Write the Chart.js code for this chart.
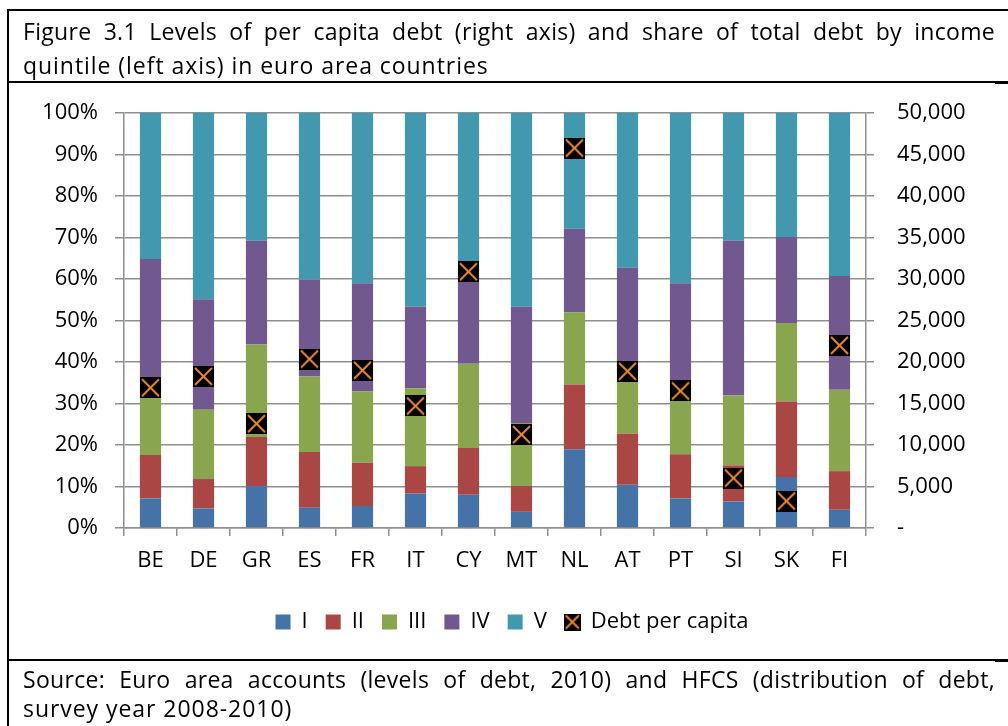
<!DOCTYPE html>
<html>
<head>
<meta charset="utf-8">
<script src="https://cdn.jsdelivr.net/npm/chart.js@4/dist/chart.umd.min.js"></script>
<style>
  html, body { margin: 0; padding: 0; background: #fff; }
  body { width: 1008px; height: 726px; position: relative; overflow: hidden;
         font-family: "Open Sans", "Noto Sans", sans-serif; color: #000; }
  #c { position: absolute; left: 0; top: 0; }
  .line { position: absolute; background: #000; }
  .txt { position: absolute; left: 23px; font-size: 23px; line-height: 34px; white-space: nowrap; letter-spacing: 0.95px; }
  .just { width: 972px; text-align: justify; text-align-last: justify; white-space: normal; letter-spacing: 0.3px; }
</style>
</head>
<body>
<canvas id="c" width="1008" height="726"></canvas>
<div class="line" style="left:7px;top:9px;width:1001px;height:2px;"></div>
<div class="line" style="left:7px;top:9px;width:2px;height:717px;"></div>
<div class="line" style="left:8px;top:81px;width:987px;height:2px;"></div>
<div class="line" style="left:995px;top:81px;width:13px;height:3px;"></div>
<div class="line" style="left:8px;top:659px;width:987px;height:2px;"></div>
<div class="line" style="left:995px;top:659px;width:13px;height:3px;"></div>
<div class="txt just" style="top:14px;">Figure 3.1 Levels of per capita debt (right axis) and share of total debt by income</div>
<div class="txt" style="top:48px;">quintile (left axis) in euro area countries</div>
<div class="txt just" style="top:662px;">Source: Euro area accounts (levels of debt, 2010) and HFCS (distribution of debt,</div>
<div class="txt" style="top:691px;">survey year 2008-2010)</div>
<script>
// ---- data ----
const countries = ["BE","DE","GR","ES","FR","IT","CY","MT","NL","AT","PT","SI","SK","FI"];
const quintileI   = [7.1, 4.7, 10.1, 4.9, 5.3, 8.3, 8.0, 3.9, 19.0, 10.4, 7.1, 6.4, 12.3, 4.4];
const quintileII  = [10.5, 7.1, 11.8, 13.4, 10.4, 6.6, 11.3, 6.2, 15.6, 12.3, 10.7, 8.7, 18.2, 9.3];
const quintileIII = [13.7, 16.7, 22.3, 18.2, 17.2, 18.8, 20.3, 15.2, 17.4, 12.5, 15.2, 16.9, 18.9, 19.6];
const quintileIV  = [33.5, 26.6, 25.0, 23.4, 26.1, 19.7, 22.4, 28.0, 20.1, 27.5, 26.0, 37.2, 20.7, 27.4];
const quintileV   = [35.2, 44.9, 30.8, 40.1, 41.0, 46.6, 38.0, 46.7, 27.9, 37.3, 41.0, 30.8, 29.9, 39.3];
const debtPerCapita = [16900, 18270, 12570, 20360, 19000, 14700, 30880, 11250, 45780, 18880, 16510, 6020, 3250, 22010];
const seriesNames = ["I","II","III","IV","V","Debt per capita"];
const leftTicks = [0,10,20,30,40,50,60,70,80,90,100];
const rightTicks = [0,5000,10000,15000,20000,25000,30000,35000,40000,45000,50000];

// ---- styles ----
const colors = ["#4572A7","#AA4643","#89A54E","#71588F","#4198AF"];
const gridColor = "#8f8f8f";
const orange = "#E8892F";

function makeMarker(size) {
  const cv = document.createElement('canvas');
  cv.width = size; cv.height = size;
  const g = cv.getContext('2d');
  g.fillStyle = '#000';
  g.fillRect(0, 0, size, size);
  g.strokeStyle = orange;
  g.lineWidth = 2;
  g.beginPath();
  g.moveTo(2, 2); g.lineTo(size - 2, size - 2);
  g.moveTo(size - 2, 2); g.lineTo(2, size - 2);
  g.stroke();
  return cv;
}
const chartMarker = makeMarker(21);
const legendMarker = makeMarker(17);

Chart.defaults.font.family = '"Open Sans", "Noto Sans", sans-serif';
Chart.defaults.color = '#000';

const quintiles = [quintileI, quintileII, quintileIII, quintileIV, quintileV];
const datasets = quintiles.map((d, i) => ({
  type: 'bar',
  label: seriesNames[i],
  data: d,
  backgroundColor: colors[i],
  borderWidth: 0,
  pointStyle: 'rect',
  yAxisID: 'y',
  order: 1,
  barPercentage: 0.4,
  categoryPercentage: 1.0
}));
datasets.push({
  type: 'line',
  label: seriesNames[5],
  data: debtPerCapita,
  yAxisID: 'y2',
  showLine: false,
  pointStyle: chartMarker,
  backgroundColor: '#000',
  borderColor: orange,
  order: 0
});

new Chart(document.getElementById('c'), {
  data: { labels: countries, datasets },
  options: {
    responsive: false,
    animation: false,
    events: [],
    layout: { padding: { top: 113, left: 30, right: 14, bottom: 83 } },
    plugins: {
      tooltip: { enabled: false },
      legend: {
        position: 'bottom',
        labels: {
          usePointStyle: true,
          boxWidth: 15,
          boxHeight: 15,
          padding: 18,
          font: { size: 22 },
          color: '#000',
          sort: (a, b) => a.datasetIndex - b.datasetIndex,
          generateLabels(chart) {
            const items = Chart.defaults.plugins.legend.labels.generateLabels(chart);
            items.forEach(it => { if (it.datasetIndex === 5) { it.pointStyle = legendMarker; } });
            return items;
          }
        }
      }
    },
    scales: {
      x: {
        stacked: true,
        grid: { offset: true, drawOnChartArea: false, drawTicks: true, tickLength: 8, color: gridColor, lineWidth: 1.5 },
        border: { display: true, color: gridColor, width: 1.5 },
        ticks: { font: { size: 22 }, padding: 12, color: '#000', maxRotation: 0 },
        afterFit: (s) => { s.height = 65; }
      },
      y: {
        stacked: true,
        position: 'left',
        min: 0, max: 100,
        afterBuildTicks: (s) => { s.ticks = leftTicks.map(v => ({ value: v })); },
        grid: { color: gridColor, lineWidth: 1.5, tickLength: 9 },
        border: { display: true, color: gridColor, width: 1.5 },
        ticks: { font: { size: 22 }, padding: 17, color: '#000', callback: (v) => v + '%' },
        afterFit: (s) => { s.width = 94; }
      },
      y2: {
        position: 'right',
        min: 0, max: 50000,
        afterBuildTicks: (s) => { s.ticks = rightTicks.map(v => ({ value: v })); },
        grid: { drawOnChartArea: false, color: gridColor, lineWidth: 1.5, tickLength: 8 },
        border: { display: true, color: gridColor, width: 1.5 },
        ticks: { font: { size: 22 }, padding: 23, color: '#000',
                 callback: (v) => v === 0 ? '-' : v.toLocaleString('en-US') },
        afterFit: (s) => { s.width = 128; }
      }
    }
  }
});
</script>
</body>
</html>
